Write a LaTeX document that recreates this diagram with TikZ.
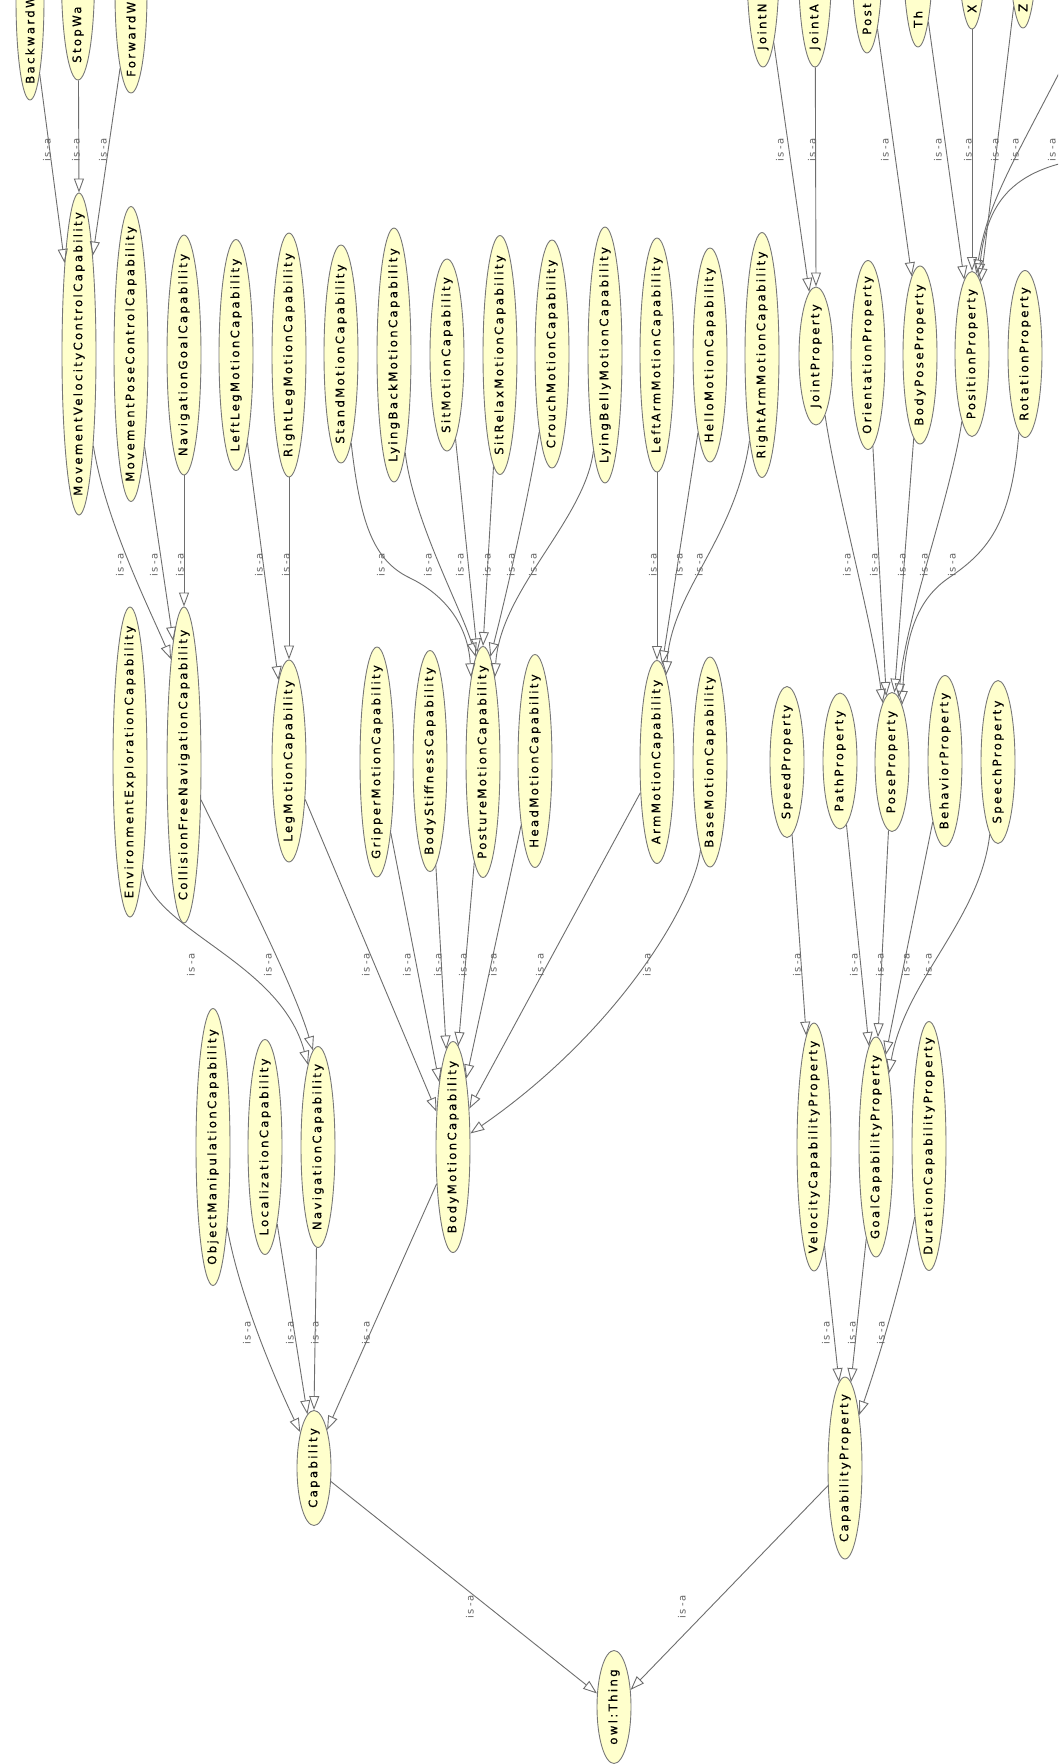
\documentclass[tikz,border=0pt]{standalone}
\usepackage{fontspec}
\usetikzlibrary{shapes.geometric,arrows.meta}
\newfontfamily\lblfont[LetterSpace=20,FakeBold=0.5]{DejaVu Sans}
\newfontfamily\linkfont[LetterSpace=20]{DejaVu Sans}
\definecolor{nodefill}{RGB}{255,255,204}
\definecolor{nodeline}{RGB}{120,120,120}
\definecolor{edgecol}{RGB}{110,110,110}
\definecolor{lblcol}{RGB}{100,100,100}
\tikzset{
  cls/.style={ellipse, draw=nodeline, fill=nodefill, line width=0.9pt, minimum width=34pt, inner sep=0pt},
  clstext/.style={rotate=90, inner sep=0pt, text=black, font=\lblfont\fontsize{11.7}{14}\selectfont},
  isa/.style={draw=edgecol, line width=0.9pt, -{Triangle[open, length=14pt, width=10pt]}},
  isalbl/.style={rotate=90, inner sep=0pt, text=lblcol, font=\linkfont\fontsize{10}{12}\selectfont},
}
% class node: name, x, y, height, label
\newcommand\cls[5]{%
  \node[cls, minimum height=#4pt] (#1) at (#2,#3) {};
  \node[clstext] (#1-t) at (#1.center) {#5};}
% class node cut by the top edge: name, x, y, width, text start, label
\newcommand\topcls[6]{%
  \node[cls, minimum width=#4pt, minimum height=200pt] (#1) at (#2,#3) {};
  \node[clstext, anchor=west] (#1-t) at (#2,#5) {#6};}
\newcommand\isalabel[3]{\node[isalbl] (#1) at (#2,#3) {is-a};}

\begin{document}
\begin{tikzpicture}[x=1pt, y=-1pt]
\useasboundingbox (0,0) rectangle (1058,1764);
\fill[white] (0,0) rectangle (1058,1764);
\clip (0,0) rectangle (1058,1764);

% ---- classes cut by the top edge
\topcls{bw}{30}{0}{28}{84}{BackwardW}
\topcls{sw}{78}{-20}{33}{63}{StopWa}
\topcls{fw}{131}{-7}{32}{77}{ForwardW}
\topcls{jn}{763}{-33}{32}{50}{JointN}
\topcls{ja}{815}{-33}{33}{50}{JointA}
\topcls{po}{867}{-47}{31}{35}{Post}
\topcls{th}{918}{-53}{30}{28}{Th}
\topcls{xx}{972}{-71}{29}{13}{X}
\topcls{zz}{1023}{-72}{29}{12}{Z}
\coordinate (farA) at (1075,42);
\coordinate (farB) at (1090,158);

% ---- first rank
\cls{MVCC}{79}{354}{322}{MovementVelocityControlCapability}
\cls{MPCC}{131}{354}{295}{MovementPoseControlCapability}
\cls{NGC}{184}{355}{240}{NavigationGoalCapability}
\cls{LLMC}{236}{355}{231}{LeftLegMotionCapability}
\cls{RLMC}{289}{355}{244}{RightLegMotionCapability}
\cls{SMC}{341}{354}{218}{StandMotionCapability}
\cls{LBMC}{394}{355}{254}{LyingBackMotionCapability}
\cls{SitMC}{447}{355}{192}{SitMotionCapability}
\cls{SRMC}{500}{355}{239}{SitRelaxMotionCapability}
\cls{CMC}{552}{354}{228}{CrouchMotionCapability}
\cls{LBeMC}{605}{355}{256}{LyingBellyMotionCapability}
\cls{LAMC}{657}{355}{234}{LeftArmMotionCapability}
\cls{HMC}{710}{355}{214}{HelloMotionCapability}
\cls{RAMC}{762}{355}{245}{RightArmMotionCapability}
\cls{JP}{816}{356}{138}{JointProperty}
\cls{OP}{868}{355}{189}{OrientationProperty}
\cls{BPP}{920}{355}{178}{BodyPoseProperty}
\cls{PosP}{972}{354}{165}{PositionProperty}
\cls{RP}{1025}{354}{167}{RotationProperty}

% ---- second rank
\cls{EEC}{130}{762}{310}{EnvironmentExplorationCapability}
\cls{CFNC}{184}{765}{316}{CollisionFreeNavigationCapability}
\cls{LMC}{289}{761}{202}{LegMotionCapability}
\cls{GMC}{377}{762}{230}{GripperMotionCapability}
\cls{BSC}{430}{761}{221}{BodyStiffnessCapability}
\cls{PMC}{483}{762}{231}{PostureMotionCapability}
\cls{HeMC}{535}{761}{213}{HeadMotionCapability}
\cls{AMC}{657}{762}{203}{ArmMotionCapability}
\cls{BaMC}{710}{762}{210}{BaseMotionCapability}
\cls{SpP}{787}{762}{151}{SpeedProperty}
\cls{PaP}{840}{761}{136}{PathProperty}
\cls{PoP}{892}{762}{139}{PoseProperty}
\cls{BeP}{945}{761}{171}{BehaviorProperty}
\cls{SchP}{998}{762}{163}{SpeechProperty}

% ---- third rank
\cls{OMC}{213}{1147}{277}{ObjectManipulationCapability}
\cls{LoC}{265}{1147}{215}{LocalizationCapability}
\cls{NaC}{318}{1147}{201}{NavigationCapability}
\cls{BMC}{453}{1147}{211}{BodyMotionCapability}
\cls{VCP}{814}{1147}{248}{VelocityCapabilityProperty}
\cls{GCP}{876}{1147}{220}{GoalCapabilityProperty}
\cls{DCP}{929}{1146}{249}{DurationCapabilityProperty}

% ---- fourth rank and root
\cls{Cap}{314}{1468}{115}{Capability}
\cls{CP}{845}{1468}{182}{CapabilityProperty}
\cls{Thing}{614}{1707}{113}{owl:Thing}

% ---- subclass links into the first rank
\draw[isa] (bw) -- (MVCC.99);
\draw[isa] (sw) -- (MVCC.90);
\draw[isa] (fw) -- (MVCC.82);
\draw[isa] (jn) -- (JP.96);
\draw[isa] (ja) -- (JP.90);
\draw[isa] (po) -- (BPP.96);
\draw[isa] (th) -- (PosP.96);
\draw[isa] (xx) -- (PosP.90);
\draw[isa] (zz) -- (PosP.83);
\draw[isa] (farA) .. controls (1015,160) and (988,200) .. (PosP.87);
\draw[isa] (farB) .. controls (1010,168) and (986,205) .. (PosP.85);

% ---- first rank to second rank
\draw[isa] (MVCC) .. controls (105,520) and (150,610) .. (CFNC.97);
\draw[isa] (MPCC) -- (CFNC.95);
\draw[isa] (NGC) -- (CFNC.90);
\draw[isa] (LLMC) -- (LMC);
\draw[isa] (RLMC) -- (LMC.90);
\draw[isa] (SMC) .. controls (360,520) and (372,560) .. (410,578) .. controls (445,595) and (468,625) .. (PMC.98);
\draw[isa] (LBMC) .. controls (413,520) and (462,610) .. (PMC.94.5);
\draw[isa] (SitMC) -- (PMC.93);
\draw[isa] (SRMC) -- (PMC.90);
\draw[isa] (CMC) .. controls (528,500) and (505,600) .. (PMC.86);
\draw[isa] (LBeMC) .. controls (585,520) and (500,590) .. (PMC.82);
\draw[isa] (LAMC) -- (AMC.90);
\draw[isa] (HMC) -- (AMC.87);
\draw[isa] (RAMC) .. controls (735,540) and (672,590) .. (AMC.84);
\draw[isa] (JP) .. controls (838,500) and (872,620) .. (PoP.99);
\draw[isa] (OP) -- (PoP.95);
\draw[isa] (BPP) -- (PoP.88);
\draw[isa] (PosP) .. controls (950,500) and (905,620) .. (PoP.84);
\draw[isa] (RP) .. controls (1012,520) and (990,550) .. (950,577) .. controls (915,600) and (905,640) .. (PoP.80);

% ---- second rank to third rank
\draw[isa] (EEC) .. controls (150,930) and (280,960) .. (NaC.97);
\draw[isa] (CFNC) .. controls (250,900) and (295,990) .. (NaC.93);
\draw[isa] (LMC) -- (BMC.115);
\draw[isa] (GMC) -- (BMC.102);
\draw[isa] (BSC) -- (BMC.94);
\draw[isa] (PMC) -- (BMC.87);
\draw[isa] (HeMC) -- (BMC.79);
\draw[isa] (AMC) -- (BMC.67);
\draw[isa] (BaMC) .. controls (695,900) and (620,1030) .. (BMC.38);
\draw[isa] (SpP) -- (VCP);
\draw[isa] (PaP) -- (GCP.94);
\draw[isa] (PoP) -- (GCP.89);
\draw[isa] (BeP) -- (GCP.84);
\draw[isa] (SchP) .. controls (980,920) and (905,980) .. (GCP.80);

% ---- third rank to fourth rank
\draw[isa] (OMC) .. controls (240,1300) and (280,1390) .. (Cap.111);
\draw[isa] (LoC) -- (Cap.97);
\draw[isa] (NaC) -- (Cap.90);
\draw[isa] (BMC) -- (Cap.71);
\draw[isa] (VCP) -- (CP.94);
\draw[isa] (GCP) -- (CP.86);
\draw[isa] (DCP) .. controls (900,1290) and (875,1370) .. (CP.75);
\draw[isa] (Cap) -- (Thing);
\draw[isa] (CP) -- (Thing);

% ---- link labels
\isalabel{l1}{47}{150}
\isalabel{l2}{76}{150}
\isalabel{l3}{103}{150}
\isalabel{l4}{780}{150}
\isalabel{l5}{812}{150}
\isalabel{l6}{885}{150}
\isalabel{l7}{938}{150}
\isalabel{l8}{968}{150}
\isalabel{l9}{995}{150}
\isalabel{l10}{1015}{150}
\isalabel{l11}{1052}{150}

\isalabel{l12}{120}{565}
\isalabel{l13}{154}{565}
\isalabel{l14}{180}{565}
\isalabel{l15}{259}{565}
\isalabel{l16}{286}{565}
\isalabel{l17}{381}{565}
\isalabel{l18}{428}{565}
\isalabel{l19}{460}{565}
\isalabel{l20}{487}{565}
\isalabel{l21}{511}{565}
\isalabel{l22}{533}{565}
\isalabel{l23}{653}{565}
\isalabel{l24}{679}{565}
\isalabel{l25}{699}{565}
\isalabel{l26}{847}{565}
\isalabel{l27}{874}{565}
\isalabel{l28}{902}{565}
\isalabel{l29}{924}{565}
\isalabel{l30}{952}{565}

\isalabel{l31}{191}{965}
\isalabel{l32}{268}{965}
\isalabel{l33}{366}{965}
\isalabel{l34}{407}{965}
\isalabel{l35}{438}{965}
\isalabel{l36}{463}{965}
\isalabel{l37}{493}{965}
\isalabel{l38}{540}{965}
\isalabel{l39}{647}{965}
\isalabel{l40}{797}{965}
\isalabel{l41}{854}{965}
\isalabel{l42}{880}{965}
\isalabel{l43}{906}{965}
\isalabel{l44}{928}{965}

\isalabel{l45}{247}{1333}
\isalabel{l46}{290}{1333}
\isalabel{l47}{315}{1333}
\isalabel{l48}{366}{1333}
\isalabel{l49}{826}{1333}
\isalabel{l50}{852}{1333}
\isalabel{l51}{881}{1333}

\isalabel{l52}{470}{1607}
\isalabel{l53}{682}{1607}
\end{tikzpicture}
\end{document}
